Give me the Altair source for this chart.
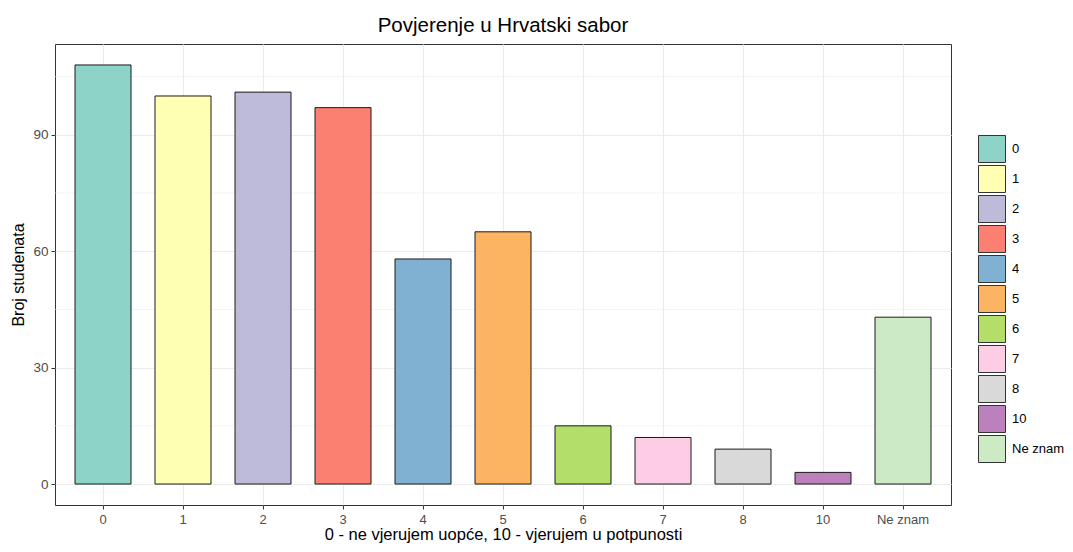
import altair as alt
import pandas as pd

categories = ["0", "1", "2", "3", "4", "5", "6", "7", "8", "10", "Ne znam"]
counts = [108, 100, 101, 97, 58, 65, 15, 12, 9, 3, 43]
colors = ["#8DD3C7", "#FFFFB3", "#BEBADA", "#FB8072", "#80B1D3", "#FDB462",
          "#B3DE69", "#FCCDE5", "#D9D9D9", "#BC80BD", "#CCEBC5"]
major_ticks = [0, 30, 60, 90]
minor_ticks = [15, 45, 75, 105]

df = pd.DataFrame({"odgovor": categories, "broj": counts})
minor_df = pd.DataFrame({"y": minor_ticks})

y_scale = alt.Scale(domain=[-5.4, 113.4], nice=False, zero=False)
x_scale = alt.Scale(domain=categories, paddingInner=0.3, paddingOuter=0.25)

minor = alt.Chart(minor_df).mark_rule(color="#EBEBEB", strokeWidth=0.6).encode(
    y=alt.Y("y:Q", scale=y_scale)
)

bars = alt.Chart(df).mark_bar(stroke="#1a1a1a", strokeWidth=1).encode(
    x=alt.X("odgovor:N", sort=categories, scale=x_scale,
            title="0 - ne vjerujem uopće, 10 - vjerujem u potpunosti",
            axis=alt.Axis(labelAngle=0, bandPosition=0.5, grid=True, gridColor="#EBEBEB",
                          gridWidth=1.1, domain=False, tickColor="#333333", tickSize=4,
                          labelColor="#4D4D4D", labelFontSize=13, labelPadding=4,
                          labelFont="Liberation Sans", titleFont="Liberation Sans",
                          titleFontSize=16.5, titleFontWeight="normal", titleColor="#000000",
                          titlePadding=0)),
    y=alt.Y("broj:Q", scale=y_scale, title="Broj studenata",
            axis=alt.Axis(values=major_ticks, grid=True, gridColor="#EBEBEB", gridWidth=1.1,
                          domain=False, tickColor="#333333", tickSize=4,
                          labelColor="#4D4D4D", labelFontSize=13.5, labelPadding=3,
                          labelFont="Liberation Sans", titleFont="Liberation Sans",
                          titleFontSize=16, titleFontWeight="normal", titleColor="#000000",
                          titlePadding=6)),
    fill=alt.Fill("odgovor:N", sort=categories,
                  scale=alt.Scale(domain=categories, range=colors),
                  legend=alt.Legend(title=None, orient="none", legendX=923, legendY=91,
                                    symbolType="square", symbolSize=729,
                                    symbolStrokeColor="#333333", symbolStrokeWidth=1,
                                    rowPadding=-6, labelFontSize=13, labelColor="#000000",
                                    labelFont="Liberation Sans", labelOffset=6)),
)

chart = alt.layer(minor, bars).properties(
    width=896, height=461,
    title=alt.TitleParams("Povjerenje u Hrvatski sabor", fontSize=20.5, fontWeight="normal",
                          font="Liberation Sans", color="#000000", anchor="middle", offset=8),
    autosize=alt.AutoSizeParams(type="none"),
    padding={"left": 47, "top": 36, "right": 114, "bottom": 39},
).configure_view(stroke="#333333", strokeWidth=1)

chart.save("out.html", embed_options={"renderer": "svg", "actions": False})
